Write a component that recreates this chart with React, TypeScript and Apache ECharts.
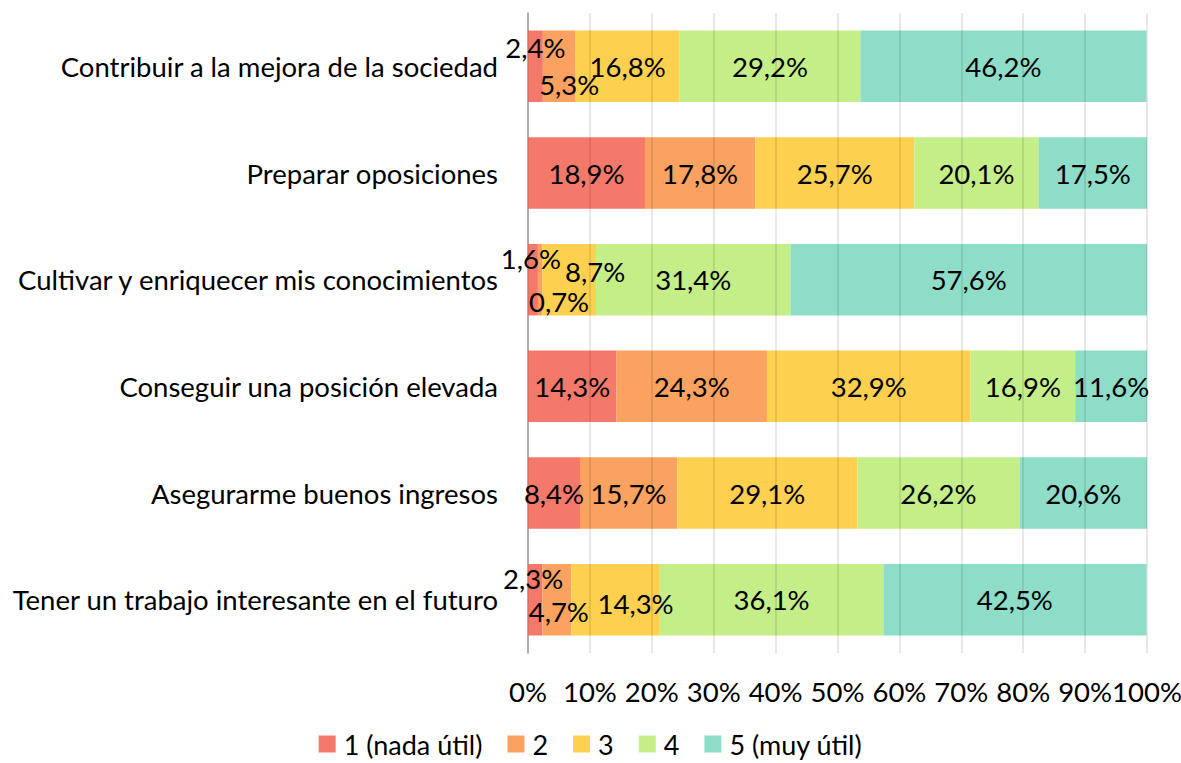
import React, { useEffect, useRef } from "react";
import * as echarts from "echarts";

const categories = [
  "Contribuir a la mejora de la sociedad",
  "Preparar oposiciones",
  "Cultivar y enriquecer mis conocimientos",
  "Conseguir una posición elevada",
  "Asegurarme buenos ingresos",
  "Tener un trabajo interesante en el futuro",
];

const seriesNames = ["1 (nada útil)", "2", "3", "4", "5 (muy útil)"];

const s1 = [2.4, 18.9, 1.6, 14.3, 8.4, 2.3];
const s2 = [5.3, 17.8, 0.7, 24.3, 15.7, 4.7];
const s3 = [16.8, 25.7, 8.7, 32.9, 29.1, 14.3];
const s4 = [29.2, 20.1, 31.4, 16.9, 26.2, 36.1];
const s5 = [46.2, 17.5, 57.6, 11.6, 20.6, 42.5];

const colors = ["#F4796B", "#FBA261", "#FDD04F", "#C4EE88", "#8DDDC8"];

// label nudges (style only), keyed "series-category"
const labelNudges: Record<string, [number, number]> = {
  "0-0": [0, -19],
  "1-0": [10, 18],
  "0-2": [-2, -21],
  "1-2": [19, 22],
  "2-2": [26, -8],
  "0-5": [-2, -21],
  "1-5": [2, 12],
  "2-5": [20, 4],
};

const FONT = "Lato, 'Noto Sans', sans-serif";
const FS = 27.5;

export default function App() {
  const ref = useRef<HTMLDivElement>(null);
  useEffect(() => {
    if (!ref.current) return;
    const chart = echarts.init(ref.current, undefined, { renderer: "svg" });
    const all = [s1, s2, s3, s4, s5];
    const fmt = (v: number) => v.toFixed(1).replace(".", ",") + "%";
    chart.setOption({
      animation: false,
      textStyle: { fontFamily: FONT },
      grid: { left: 528, right: 34, top: 13, bottom: 110, containLabel: false, outerBoundsMode: "none" },
      legend: {
        top: 729,
        left: "center",
        padding: 0,
        itemWidth: 17,
        itemHeight: 17,
        itemGap: 25,
        icon: "rect",
        textStyle: {
          fontSize: 27,
          lineHeight: 30,
          color: "#000",
          fontFamily: FONT,
          padding: [0, 0, 0, 3],
        },
        data: seriesNames,
      },
      xAxis: {
        type: "value",
        min: 0,
        max: 100,
        interval: 10,
        z: 5,
        axisLine: { show: false },
        axisTick: { show: false },
        splitLine: { show: true, lineStyle: { color: "rgba(0,0,0,0.12)", width: 1.5 } },
        axisLabel: {
          formatter: (v: number) => v + "%",
          fontSize: FS,
          color: "#000",
          margin: 24,
          fontFamily: FONT,
          showMaxLabel: true,
          showMinLabel: true,
          hideOverlap: false,
        },
      },
      yAxis: {
        type: "category",
        inverse: true,
        data: categories,
        z: 0,
        axisLine: { show: true, lineStyle: { color: "#BFBFBF", width: 2 } },
        axisTick: { show: false },
        axisLabel: { fontSize: FS, color: "#000", margin: 30, fontFamily: FONT },
      },
      series: all.map((arr, si) => ({
        name: seriesNames[si],
        type: "bar",
        stack: "total",
        barCategoryGap: "33%",
        z: 2,
        itemStyle: { color: colors[si] },
        label: {
          show: true,
          position: "inside",
          fontSize: FS,
          color: "#000",
          fontFamily: FONT,
          formatter: (p: any) => fmt(p.value),
        },
        data: arr.map((v, ci) => {
          const n = labelNudges[si + "-" + ci];
          return n ? { value: v, label: { offset: n } } : { value: v };
        }),
      })),
    });
    return () => chart.dispose();
  }, []);
  return <div ref={ref} style={{ width: 1181, height: 763, position: "absolute", left: 0, top: 0 }} />;
}
